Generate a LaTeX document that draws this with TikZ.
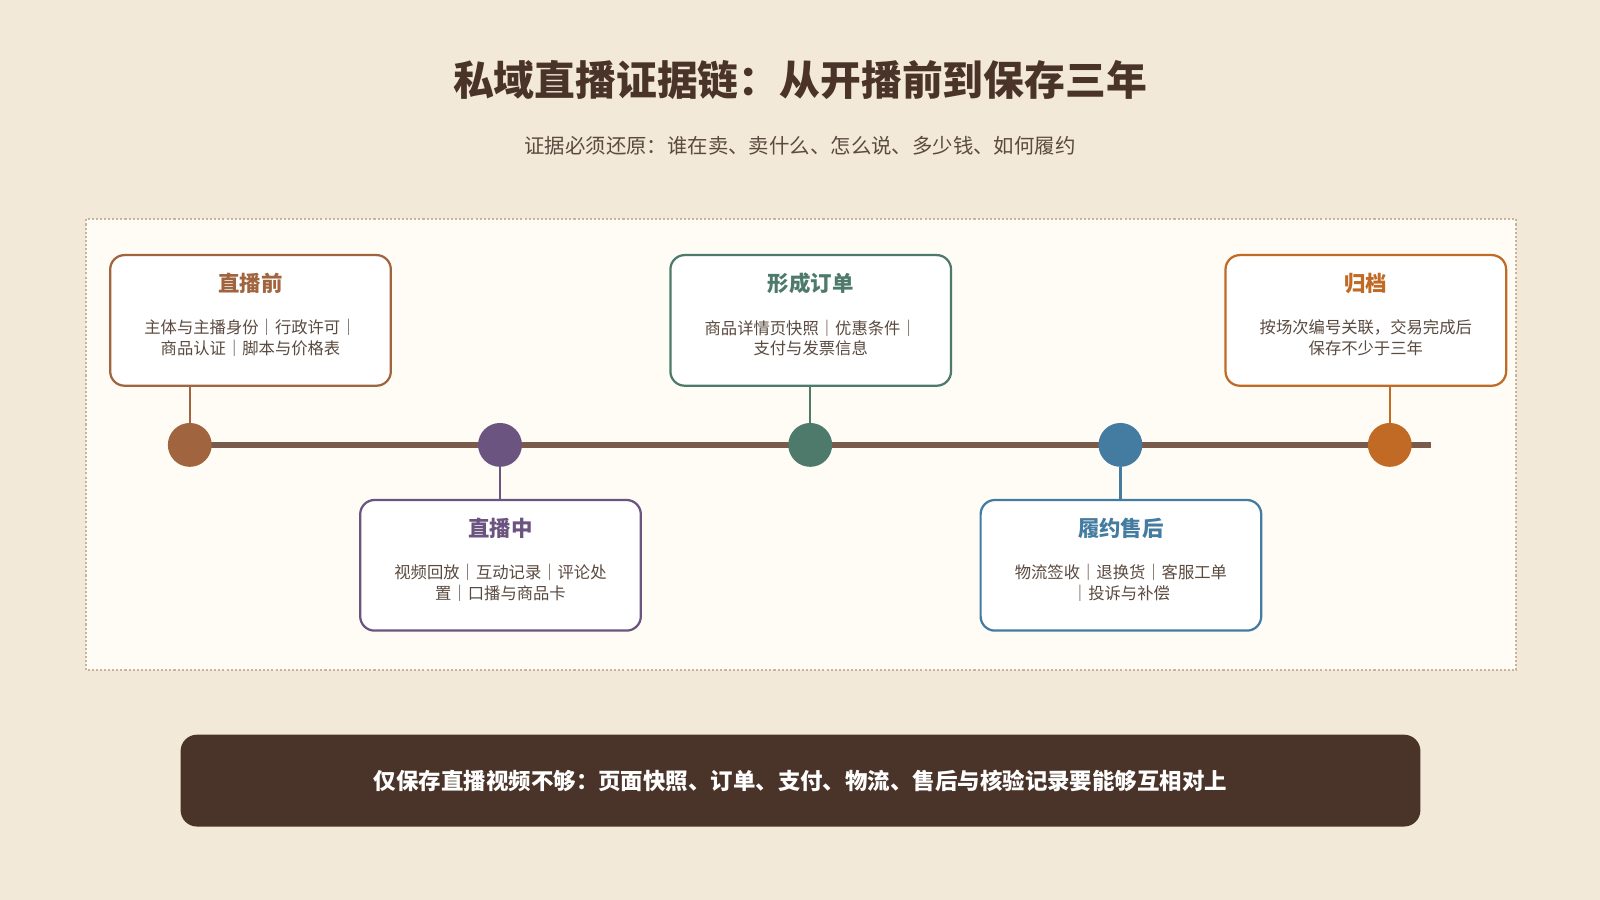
\documentclass[tikz,border=0pt]{standalone}
\usepackage{fontspec}
\setmainfont{Noto Sans CJK SC}
\newfontfamily\cjkb{Noto Sans CJK SC}[BoldFont={Noto Sans CJK SC Bold}]
\definecolor{bg}{HTML}{F3E9D8}
\definecolor{panel}{HTML}{FFFCF5}
\definecolor{dots}{HTML}{C8B49A}
\definecolor{dark}{HTML}{4A3328}
\definecolor{line}{HTML}{7A5A4A}
\definecolor{txt}{HTML}{5A4A40}
\definecolor{cA}{HTML}{A0653F}
\definecolor{cB}{HTML}{6B5580}
\definecolor{cC}{HTML}{4E7A6C}
\definecolor{cD}{HTML}{447BA0}
\definecolor{cE}{HTML}{C06A25}
\begin{document}
\begin{tikzpicture}[x=1pt,y=-1pt,
  card/.style={draw=#1,line width=2.2pt,fill=white,rounded corners=14pt,minimum width=275pt,minimum height=128pt},
  dot/.style={circle,fill=#1,minimum size=43pt,inner sep=0pt},
  ttl/.style={text=#1,font=\fontsize{21}{24}\selectfont\bfseries},
  bdy/.style={text=txt,font=\fontsize{16}{20}\selectfont,align=center,text width=240pt}]
\fill[bg] (0,0) rectangle (1568,882);
\useasboundingbox (0,0) rectangle (1568,882);
\fill[panel] (84,215) rectangle (1486,657);
\draw[dots,line width=2pt,dotted] (84,215) rectangle (1486,657);
\node[text=dark,font=\fontsize{40}{44}\selectfont\bfseries] (title) at (784,78) {私域直播证据链：从开播前到保存三年};
\node[text=txt,font=\fontsize{20}{24}\selectfont] (sub) at (784,143) {证据必须还原：谁在卖、卖什么、怎么说、多少钱、如何履约};
\coordinate (ls) at (186,436); \coordinate (le) at (1402,436);
\draw[line,line width=6pt] (ls) -- (le);
\foreach \n/\x/\y/\c/\t/\b in {
 a/245.5/314/cA/直播前/{主体与主播身份｜行政许可｜\\商品认证｜脚本与价格表},
 b/490.5/554/cB/直播中/{视频回放｜互动记录｜评论处\\置｜口播与商品卡},
 c/794.5/314/cC/形成订单/{商品详情页快照｜优惠条件｜\\支付与发票信息},
 d/1098.5/554/cD/履约售后/{物流签收｜退换货｜客服工单\\｜投诉与补偿},
 e/1338.5/314/cE/归档/{按场次编号关联，交易完成后\\保存不少于三年}}{
 \node[card=\c] (\n) at (\x,\y) {};
 \node[ttl=\c] (\n t) at (\x,\y-36) {\t};
 \node[bdy] (\n b) at (\x,\y+17) {\b};
}
\foreach \n/\x/\c in {a/186/cA,b/490/cB,c/794/cC,d/1098/cD,e/1362/cE}{
 \node[dot=\c] (\n d) at (\x,436) {};
}
\draw[cA,line width=2.5pt] (ad) -- (ad |- a.south);
\draw[cB,line width=2.5pt] (bd) -- (bd |- b.north);
\draw[cC,line width=2.5pt] (cd) -- (cd |- c.south);
\draw[cD,line width=2.5pt] (dd) -- (dd |- d.north);
\draw[cE,line width=2.5pt] (ed) -- (ed |- e.south);
\node[fill=dark,rounded corners=16pt,minimum width=1215pt,minimum height=90pt,text=white,font=\fontsize{22}{26}\selectfont\bfseries] (note) at (784.5,765) {仅保存直播视频不够：页面快照、订单、支付、物流、售后与核验记录要能够互相对上};
\end{tikzpicture}
\end{document}
